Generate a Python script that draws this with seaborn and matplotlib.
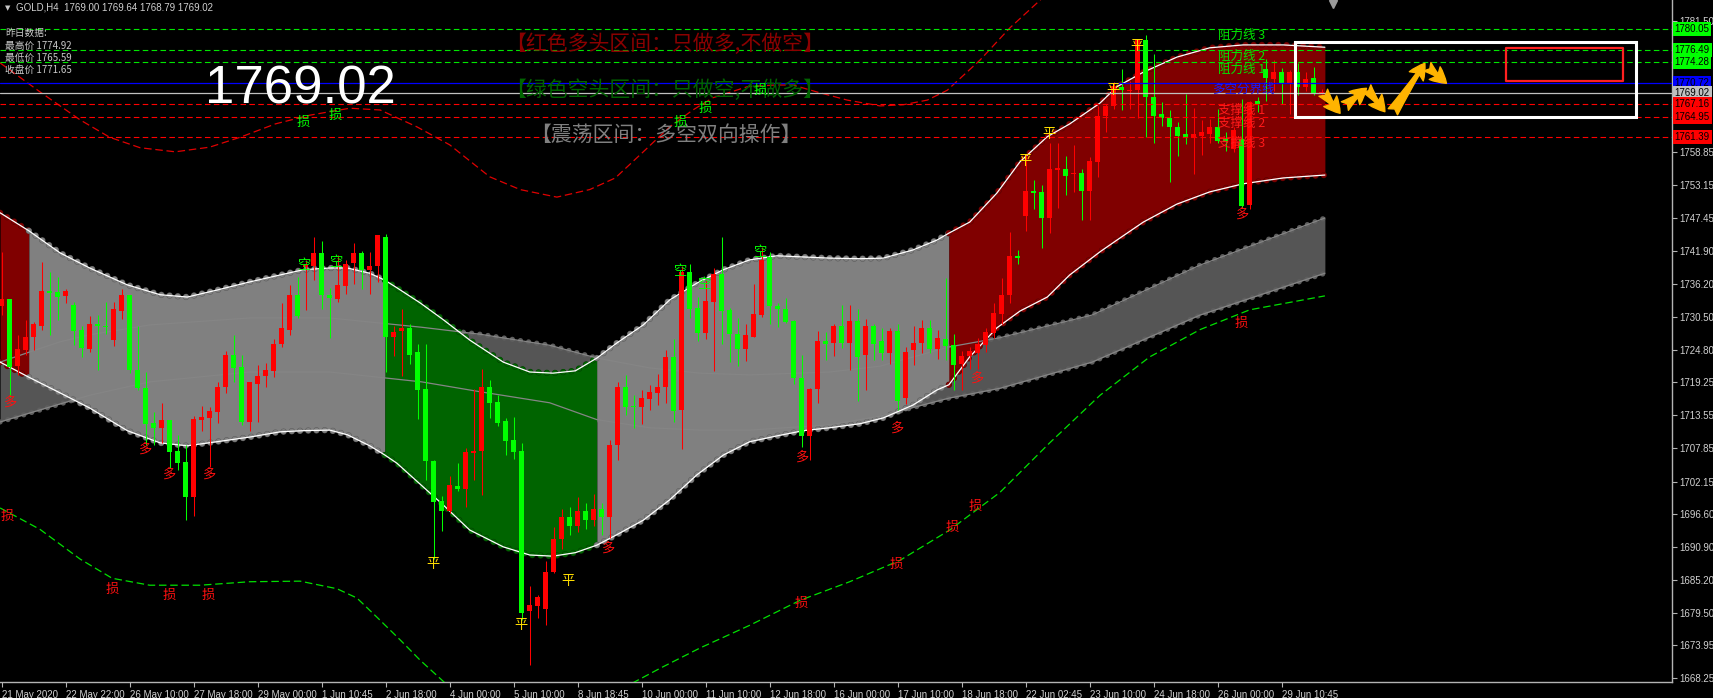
import numpy as np
import seaborn as sns
import matplotlib.pyplot as plt
import matplotlib.transforms as mtransforms
import matplotlib.patheffects as pe
from matplotlib.patches import Rectangle

# GOLD H4 bars, bar 0 = 21 May 2020
opens = [
    1732.3, 1733.6, 1722.0, 1724.7, 1727.0, 1729.0, 1734.9, 1734.7, 1734.1, 1732.6,
    1728.2, 1724.9, 1729.2, 1729.0, 1726.5, 1731.5, 1734.2, 1721.4, 1718.2, 1712.2,
    1711.4, 1712.7, 1707.4, 1705.5, 1699.4, 1712.7, 1713.0, 1714.1, 1718.4, 1724.0,
    1721.9, 1712.4, 1719.0, 1720.3, 1721.2, 1725.8, 1728.2, 1734.2, 1739.0, 1739.3,
    1741.5, 1734.3, 1733.6, 1735.8, 1739.7, 1741.5, 1738.6, 1739.2, 1744.3, 1727.0,
    1728.0, 1728.6, 1724.4, 1718.0, 1705.7, 1698.8, 1697.0, 1701.4, 1700.8, 1707.1,
    1707.4, 1718.5, 1715.8, 1712.6, 1709.3, 1707.4, 1679.8, 1680.7, 1680.2, 1686.5,
    1692.2, 1696.0, 1694.5, 1697.0, 1695.5, 1697.5, 1696.0, 1708.4, 1718.5, 1715.1,
    1714.9, 1716.3, 1717.4, 1718.4, 1723.5, 1714.4, 1738.2, 1732.1, 1727.7, 1733.0,
    1737.9, 1731.6, 1727.6, 1725.0, 1727.1, 1730.8, 1740.8, 1732.4, 1731.8, 1729.7,
    1720.0, 1710.0, 1718.0, 1726.4, 1726.0, 1729.0, 1726.0, 1729.7, 1723.9, 1728.9,
    1726.3, 1724.2, 1728.1, 1716.5, 1724.7, 1726.0, 1728.6, 1725.0, 1726.6, 1725.6,
    1722.3, 1723.7, 1724.2, 1725.6, 1727.7, 1730.9, 1734.2, 1741.0, 1747.9, 1752.2,
    1751.9, 1747.5, 1755.8, 1756.0, 1755.0, 1755.3, 1752.2, 1757.1, 1765.1, 1766.7,
    1770.0, 1769.4, 1769.5, 1778.1, 1768.3, 1765.4, 1764.8, 1763.2, 1761.9, 1761.3,
    1761.7, 1761.9, 1763.2, 1761.1, 1759.4, 1761.1, 1749.7, 1767.7, 1773.2, 1771.4,
    1772.6, 1770.5, 1772.6, 1770.0, 1771.6, 1769.00,
]
highs = [
    1741.6, 1733.6, 1727.3, 1730.0, 1729.6, 1739.9, 1738.2, 1737.4, 1735.3, 1733.1,
    1729.0, 1730.6, 1730.8, 1733.0, 1733.0, 1735.3, 1734.2, 1728.9, 1721.0, 1714.1,
    1715.6, 1712.7, 1710.1, 1708.5, 1713.4, 1715.1, 1715.0, 1719.3, 1724.6, 1727.3,
    1724.0, 1719.3, 1722.2, 1722.5, 1726.6, 1732.9, 1735.9, 1737.4, 1740.2, 1744.3,
    1743.6, 1735.5, 1741.1, 1740.2, 1743.2, 1741.9, 1741.7, 1744.5, 1744.8, 1729.0,
    1731.8, 1729.2, 1725.8, 1725.9, 1705.8, 1699.6, 1703.1, 1705.3, 1708.0, 1718.0,
    1721.6, 1719.7, 1717.0, 1713.0, 1713.2, 1708.7, 1684.1, 1682.6, 1688.4, 1694.4,
    1697.5, 1697.8, 1699.5, 1698.5, 1700.0, 1698.5, 1709.3, 1719.3, 1720.4, 1717.0,
    1717.9, 1718.7, 1720.6, 1724.7, 1726.7, 1739.3, 1739.6, 1733.9, 1736.8, 1738.9,
    1744.3, 1732.1, 1730.3, 1729.2, 1736.1, 1742.5, 1741.6, 1732.9, 1733.8, 1729.9,
    1723.9, 1718.3, 1728.0, 1727.9, 1729.3, 1732.5, 1732.5, 1731.9, 1730.2, 1729.3,
    1728.6, 1728.6, 1729.3, 1725.3, 1729.0, 1729.9, 1729.9, 1728.3, 1737.2, 1727.6,
    1724.6, 1725.3, 1726.8, 1728.6, 1732.8, 1737.1, 1745.1, 1742.0, 1758.4, 1754.1,
    1753.2, 1760.5, 1760.5, 1758.2, 1760.1, 1756.0, 1758.0, 1766.8, 1767.1, 1770.9,
    1773.2, 1771.1, 1778.1, 1779.0, 1775.7, 1767.4, 1766.1, 1764.0, 1768.9, 1766.4,
    1764.4, 1764.6, 1766.3, 1762.3, 1763.1, 1768.0, 1767.7, 1768.4, 1774.9, 1774.7,
    1773.4, 1773.0, 1774.1, 1772.7, 1773.5, 1769.64,
]
lows = [
    1730.8, 1716.7, 1720.4, 1723.9, 1724.7, 1728.2, 1727.3, 1729.9, 1732.9, 1725.6,
    1723.5, 1724.4, 1721.3, 1727.6, 1725.5, 1730.2, 1720.9, 1717.9, 1708.4, 1708.4,
    1708.7, 1704.4, 1704.1, 1695.5, 1696.2, 1710.9, 1704.7, 1712.2, 1717.4, 1719.3,
    1711.9, 1710.9, 1712.4, 1718.4, 1720.1, 1725.3, 1727.3, 1730.3, 1731.6, 1736.8,
    1731.9, 1726.9, 1733.0, 1734.4, 1736.2, 1735.3, 1734.4, 1736.5, 1721.0, 1723.7,
    1720.3, 1722.4, 1712.9, 1702.4, 1688.8, 1693.7, 1696.7, 1700.6, 1697.7, 1702.4,
    1699.8, 1713.0, 1711.7, 1706.7, 1706.1, 1678.3, 1670.6, 1678.6, 1677.5, 1686.4,
    1690.5, 1693.0, 1693.5, 1694.0, 1694.5, 1693.0, 1692.5, 1705.8, 1713.6, 1711.4,
    1712.0, 1714.5, 1715.4, 1715.6, 1712.4, 1707.8, 1730.3, 1726.4, 1726.6, 1721.2,
    1725.8, 1722.7, 1722.0, 1722.9, 1727.0, 1730.5, 1729.3, 1728.7, 1729.4, 1719.0,
    1708.1, 1705.8, 1715.7, 1723.0, 1723.7, 1725.2, 1721.4, 1716.0, 1717.9, 1723.1,
    1723.1, 1722.3, 1714.5, 1715.5, 1722.2, 1724.2, 1724.2, 1723.3, 1723.0, 1717.9,
    1717.9, 1721.6, 1721.6, 1724.4, 1726.8, 1729.3, 1732.9, 1739.6, 1745.3, 1749.1,
    1742.4, 1744.9, 1749.3, 1751.4, 1751.9, 1747.1, 1747.1, 1754.5, 1762.3, 1766.3,
    1766.1, 1766.3, 1764.8, 1761.4, 1760.4, 1763.4, 1753.7, 1758.1, 1760.3, 1755.0,
    1758.4, 1760.5, 1760.5, 1759.1, 1758.8, 1749.3, 1749.0, 1765.7, 1767.7, 1769.4,
    1767.1, 1765.4, 1768.6, 1769.3, 1768.6, 1768.79,
]
closes = [
    1733.6, 1721.9, 1724.9, 1727.1, 1729.2, 1734.9, 1734.6, 1733.9, 1734.9, 1728.0,
    1725.1, 1729.2, 1729.0, 1728.7, 1731.8, 1734.2, 1721.3, 1718.2, 1712.1, 1711.4,
    1712.7, 1707.3, 1705.3, 1699.4, 1712.9, 1713.2, 1714.3, 1718.5, 1724.0, 1721.7,
    1712.4, 1719.3, 1720.3, 1721.3, 1725.8, 1728.5, 1734.2, 1730.6, 1739.5, 1741.5,
    1734.2, 1733.7, 1735.9, 1739.6, 1741.5, 1738.6, 1739.3, 1744.5, 1727.0, 1727.9,
    1728.6, 1724.0, 1717.9, 1705.7, 1698.7, 1697.1, 1701.5, 1700.8, 1707.3, 1707.4,
    1718.5, 1715.7, 1712.2, 1709.2, 1707.3, 1679.6, 1680.9, 1682.3, 1686.6, 1692.2,
    1696.0, 1694.5, 1697.0, 1695.5, 1697.5, 1696.0, 1708.4, 1718.5, 1715.0, 1714.9,
    1716.5, 1717.5, 1718.5, 1723.5, 1714.3, 1738.2, 1731.9, 1727.7, 1733.3, 1737.8,
    1731.5, 1727.6, 1725.0, 1727.3, 1730.9, 1740.2, 1732.3, 1731.8, 1729.6, 1720.0,
    1710.0, 1718.1, 1726.4, 1725.9, 1729.0, 1726.0, 1729.7, 1723.6, 1728.9, 1725.9,
    1724.3, 1728.1, 1716.0, 1724.5, 1726.0, 1728.6, 1724.9, 1726.8, 1725.4, 1722.2,
    1723.7, 1724.6, 1725.8, 1727.9, 1731.2, 1734.2, 1741.0, 1740.6, 1752.2, 1751.8,
    1747.5, 1756.0, 1756.1, 1754.8, 1755.3, 1752.1, 1757.3, 1765.1, 1766.7, 1770.3,
    1769.5, 1769.5, 1778.1, 1768.3, 1765.1, 1764.8, 1763.2, 1761.7, 1761.3, 1761.9,
    1762.3, 1763.2, 1760.7, 1760.8, 1762.6, 1749.5, 1767.4, 1767.1, 1771.6, 1772.6,
    1770.5, 1772.6, 1770.0, 1771.4, 1768.8, 1769.02,
]

# time axis labels, one every 8 bars
tick_dates = ["21 May 2020", "22 May 22:00", "26 May 10:00", "27 May 18:00", "29 May 00:00",
              "1 Jun 10:45", "2 Jun 18:00", "4 Jun 00:00", "5 Jun 10:00", "8 Jun 18:45",
              "10 Jun 00:00", "11 Jun 10:00", "12 Jun 18:00", "16 Jun 00:00", "17 Jun 10:00",
              "18 Jun 18:00", "22 Jun 02:45", "23 Jun 10:00", "24 Jun 18:00", "26 Jun 00:00",
              "29 Jun 10:45"]
# the ticks hidden behind the price boxes are left out
price_ticks = [1781.50, 1758.85, 1753.15, 1747.45, 1741.90,
               1736.20, 1730.50, 1724.80, 1719.25, 1713.55, 1707.85, 1702.15, 1696.60,
               1690.90, 1685.20, 1679.50, 1673.95, 1668.25]

# main channel (bar index, price)
band_x = [-0.2, 3.4, 7.3, 11.0, 15.7, 19.8, 23.2, 26.9, 31.0, 34.8, 37.7, 41.0, 43.2, 46.0,
          47.9, 49.4, 52.3, 55.2, 58.5, 62.7, 66.0, 68.9, 71.7, 74.4, 76.9, 80.2, 83.5,
          86.9, 90.2, 93.5, 96.9, 100.2, 103.5, 107.3, 110.2, 113.9, 116.9, 118.4, 121.0,
          124.4, 127.3, 130.7, 133.5, 137.3, 139.4, 142.7, 146.9, 151.0, 155.2, 160.2, 165.4]
band_upper = [1748.4, 1745.3, 1741.5, 1738.9, 1736.0, 1734.3, 1733.9, 1735.1, 1736.5, 1737.7,
              1738.6, 1738.9, 1738.9, 1738.0, 1736.8, 1735.5, 1732.9, 1730.0, 1726.5, 1722.7,
              1721.0, 1720.8, 1721.2, 1723.4, 1726.0, 1729.1, 1733.4, 1736.3, 1738.6, 1740.3,
              1741.0, 1740.8, 1740.6, 1740.5, 1740.6, 1742.0, 1743.7, 1744.9, 1746.8, 1751.8,
              1757.2, 1761.5, 1763.7, 1767.3, 1770.1, 1772.6, 1775.2, 1776.8, 1777.3, 1777.3,
              1776.9]
band_lower = [1722.7, 1720.1, 1717.4, 1714.8, 1710.9, 1708.8, 1708.3, 1709.0, 1709.8, 1710.7,
              1710.9, 1711.0, 1710.2, 1708.3, 1706.7, 1705.3, 1701.7, 1698.1, 1693.8, 1690.9,
              1689.5, 1689.3, 1689.9, 1691.2, 1693.0, 1695.5, 1699.0, 1703.3, 1706.7, 1709.0,
              1710.0, 1710.9, 1711.4, 1712.1, 1713.1, 1715.3, 1717.9, 1718.8, 1723.6, 1728.6,
              1731.5, 1733.9, 1737.7, 1741.7, 1743.7, 1746.8, 1749.9, 1752.0, 1753.4, 1754.4,
              1754.9]
zone_edges = [-0.2, 3.4, 47.9, 74.4, 118.4, 165.4]
zone_colors = ["#800000", "#808080", "#006400", "#808080", "#800000"]
zone_rims = ["#560000", "#5c5c5c", "#003f00", "#5c5c5c", "#560000"]

# slower channel drawn behind
sec_x = [-0.2, 3.4, 7.3, 11.0, 18.5, 31.0, 41.0, 52.5, 59.8, 68.5, 74.4, 81.0, 87.3, 93.5,
         103.5, 109.8, 118.4, 124.8, 136.3, 149.8, 165.4]
sec_upper = [1722.7, 1724.4, 1726.2, 1727.4, 1729.1, 1730.3, 1730.3, 1728.7, 1727.5, 1725.6,
             1723.4, 1721.7, 1720.8, 1720.5, 1721.0, 1722.0, 1725.3, 1726.9, 1730.8, 1739.4,
             1747.5]
sec_lower = [1712.4, 1713.9, 1715.5, 1717.0, 1719.3, 1721.0, 1721.0, 1719.3, 1717.6, 1715.7,
             1712.8, 1711.4, 1711.0, 1711.0, 1711.9, 1713.4, 1716.5, 1718.2, 1722.7, 1730.8,
             1738.0]

# outer envelopes
red_env_x = [-0.2, 4.8, 9.8, 13.5, 17.3, 21.7, 26.0, 29.8, 34.2, 38.5, 43.5, 47.3, 51.9, 56.0,
             61.0, 64.8, 69.4, 73.5, 76.7, 80.2, 83.5, 86.4, 88.9, 93.2, 96.7, 98.9, 101.9,
             105.7, 109.8, 112.7, 115.7, 118.2, 122.3, 126.0, 129.8, 133.5]
red_env_y = [1774.2, 1769.2, 1764.4, 1761.4, 1759.6, 1758.9, 1759.7, 1761.4, 1763.7, 1765.2,
             1766.4, 1766.1, 1763.2, 1760.1, 1754.6, 1752.4, 1751.1, 1752.4, 1754.4, 1758.9,
             1763.2, 1766.1, 1768.2, 1770.1, 1770.4, 1770.4, 1769.2, 1767.8, 1766.8, 1767.0,
             1767.8, 1769.5, 1774.7, 1780.2, 1785.0, 1790.2]
green_env_x = [-0.2, 4.8, 9.8, 13.8, 18.5, 24.8, 31.0, 37.3, 41.9, 44.4, 46.9, 49.8, 52.3,
               55.4, 58.5, 64.0, 69.0, 74.8, 78.9, 82.3, 87.3, 93.5, 99.8, 106.0, 112.3,
               118.5, 124.8, 131.0, 137.3, 143.5, 149.8, 156.0, 165.4]
green_env_y = [1697.6, 1693.9, 1688.8, 1685.5, 1684.3, 1684.3, 1684.9, 1685.0, 1683.7, 1682.1,
               1678.8, 1674.9, 1671.4, 1667.5, 1662.8, 1659.0, 1659.0, 1664.5, 1667.5, 1670.0,
               1673.5, 1677.4, 1681.7, 1684.9, 1688.6, 1693.8, 1700.3, 1708.8, 1717.0, 1723.6,
               1728.3, 1731.7, 1734.1]

# signal labels
duo_x = [1.0, 17.9, 20.9, 25.9, 75.8, 100.0, 111.9, 121.9, 155.0]
duo_y = [1715.8, 1707.7, 1703.4, 1703.4, 1690.7, 1706.4, 1711.4, 1720.0, 1748.2]
kong_x = [37.9, 41.9, 84.9, 87.9, 94.9]
kong_y = [1739.4, 1739.9, 1738.2, 1736.0, 1741.5]
ping_x = [53.9, 64.9, 70.8, 127.9, 130.9, 138.9, 141.9]
ping_y = [1687.8, 1677.3, 1684.9, 1757.3, 1761.8, 1769.4, 1777.1]
stop_up_x = [37.7, 41.7, 84.8, 87.9, 94.8]
stop_up_y = [1764.0, 1765.2, 1763.9, 1766.4, 1769.5]
stop_dn_x = [0.7, 13.8, 20.9, 25.8, 99.9, 111.8, 118.8, 121.7, 155.0]
stop_dn_y = [1696.1, 1683.5, 1682.6, 1682.6, 1681.1, 1687.8, 1694.2, 1697.9, 1729.3]

# levels
resist = [1780.05, 1776.49, 1774.28]
resist_names = ["阻力线 3", "阻力线 2", "阻力线 1"]
pivot = 1770.72
bid = 1769.02
support = [1767.16, 1764.95, 1761.39]
support_names = ["支撑线 1", "支撑线 2", "支撑线 3"]

# forecast arrows (bar index, price)
arrow_from = [(165.2, 1769.07), (167.9, 1766.78), (170.6, 1769.83), (173.9, 1765.80), (178.2, 1773.55)]
arrow_to = [(167.3, 1765.53), (170.6, 1769.83), (172.9, 1765.80), (177.9, 1774.13), (180.6, 1770.69)]

sns.set_theme(style="dark", rc={"axes.facecolor": "black", "figure.facecolor": "black",
                                "axes.grid": False, "axes.edgecolor": "#b4b4b4"})
plt.rcParams["font.family"] = ["Liberation Sans", "Noto Sans CJK SC", "DejaVu Sans"]
cjk = ["Noto Sans CJK SC", "DejaVu Sans"]

fig = plt.figure(figsize=(17.13, 6.98), dpi=100)
ax = fig.add_axes([0, 16 / 698, 1672 / 1713, 682 / 698])
ax.set_facecolor("black")
ax.grid(False)

# slower channel
sx, su, sl = map(np.array, (sec_x, sec_upper, sec_lower))
ax.fill_between(sx, sl, su, color="#555555", lw=0, zorder=1)
for yy in (su, sl):
    ax.plot(sx, yy, color="#5e5e5e", lw=3.8, ls=(0, (0.01, 1.55)), dash_capstyle="round", zorder=1.1)
    ax.plot(sx, yy, color="#858585", lw=0.9, zorder=2.5)

# main channel, coloured by regime
bx, bu, bl = map(np.array, (band_x, band_upper, band_lower))
for a, b, fc, rc in zip(zone_edges[:-1], zone_edges[1:], zone_colors, zone_rims):
    m = (bx >= a - 1e-6) & (bx <= b + 1e-6)
    ax.fill_between(bx[m], bl[m], bu[m], color=fc, lw=0, zorder=2)
    for yy in (bu[m], bl[m]):
        ax.plot(bx[m], yy, color=fc, lw=3.8, ls=(0, (0.01, 1.55)), dash_capstyle="round", zorder=2.2,
                path_effects=[pe.Stroke(linewidth=4.6, foreground=rc), pe.Normal()])
ax.plot(bx, bu, color="white", lw=0.9, zorder=2.8)
ax.plot(bx, bl, color="white", lw=0.9, zorder=2.8)

# envelopes
sns.lineplot(x=red_env_x, y=red_env_y, color="#e00000", lw=0.9, linestyle=(0, (6, 3)), ax=ax, zorder=3)
sns.lineplot(x=green_env_x, y=green_env_y, color="#00e000", lw=0.9, linestyle=(0, (6, 3)), ax=ax, zorder=3)

# candles
idx = np.arange(len(closes))
o, h, l, c = map(np.array, (opens, highs, lows, closes))
col = np.where(c >= o, "#ff0000", "#00ff00")
ax.vlines(idx, l, h, colors=col, lw=0.75, zorder=4)
ax.bar(idx, np.maximum(np.abs(c - o), 0.18), bottom=np.minimum(o, c), width=0.62,
       color=col, lw=0, zorder=4.1)

# horizontal levels
for lv in resist:
    ax.axhline(lv, color="#00e600", lw=0.8, ls=(0, (5, 3)), zorder=5)
for lv in support:
    ax.axhline(lv, color="#ff0000", lw=0.8, ls=(0, (5, 3)), zorder=5)
ax.axhline(pivot, color="#0000ff", lw=0.9, zorder=5)
ax.axhline(bid, color="#c0c0c0", lw=0.9, zorder=5)

for lv, name in zip(resist, resist_names):
    ax.text(152.0, lv, name, color="#00e600", fontsize=9, va="top", ha="left", family=cjk, zorder=7)
for lv, name in zip(support, support_names):
    ax.text(152.0, lv, name, color="#ff1a1a", fontsize=9, va="top", ha="left", family=cjk, zorder=7)
ax.text(151.3, pivot, "多空分界线", color="#1a1aff", fontsize=9, va="top", ha="left", family=cjk, zorder=7)

# signal marks
for xs, ys, s, colr in [(duo_x, duo_y, "多", "#ff1010"), (kong_x, kong_y, "空", "#00ff00"),
                        (ping_x, ping_y, "平", "#ffdd00"), (stop_up_x, stop_up_y, "损", "#00ff00"),
                        (stop_dn_x, stop_dn_y, "损", "#ff1010")]:
    for x, y in zip(xs, ys):
        ax.text(x, y, s, color=colr, fontsize=9.5, ha="center", va="center", family=cjk, zorder=7)

# forecast box and arrows
ax.add_patch(Rectangle((161.7, 1764.94), 42.6, 12.91, fill=False, ec="white", lw=2.2, zorder=8))
ax.add_patch(Rectangle((188.0, 1771.09), 14.7, 5.73, fill=False, ec="#ff2020", lw=1.6,
                       joinstyle="round", zorder=8))
for (x0, y0), (x1, y1) in zip(arrow_from, arrow_to):
    ax.annotate("", xy=(x1, y1), xytext=(x0, y0), zorder=9,
                arrowprops=dict(arrowstyle="fancy,head_length=0.7,head_width=0.75,tail_width=0.5",
                                color="#ffb400", mutation_scale=16, shrinkA=0, shrinkB=0))

# axes
ax.set_xlim(-0.2125, 208.79)
ax.set_ylim(1667.64, 1785.03)
for sp in ("left", "top"):
    ax.spines[sp].set_visible(False)
for sp in ("right", "bottom"):
    ax.spines[sp].set_color("#b4b4b4")
    ax.spines[sp].set_linewidth(1)
ax.yaxis.tick_right()
ax.set_yticks(price_ticks)
ax.set_yticklabels([f"{v:.2f}" for v in price_ticks])
ax.set_xticks(np.arange(0, 8 * len(tick_dates), 8))
ax.set_xticklabels(tick_dates, ha="left")
ax.tick_params(axis="both", colors="#b4b4b4", labelcolor="#d0d0d0", labelsize=7,
               length=3.5, width=0.8, direction="out", pad=2)
ax.tick_params(axis="y", right=True, left=False)
ax.tick_params(axis="x", bottom=True)
ax.set_xlabel("")
ax.set_ylabel("")

# price boxes on the axis
blend = mtransforms.blended_transform_factory(ax.transAxes, ax.transData)
box_levels = resist + [pivot, bid] + support
box_colors = ["#00ff00"] * 3 + ["#0000ff", "#c0c0c0"] + ["#ff0000"] * 3
for lv, fc in zip(box_levels, box_colors):
    ax.text(1.0016, lv, f"{lv:.2f}", transform=blend, fontsize=7, color="black", ha="left",
            va="center", clip_on=False, zorder=20,
            bbox=dict(boxstyle="square,pad=0.2", fc=fc, ec="none"))

# chart-shift marker
ax.plot([166.4], [1784.4], marker="v", ms=6, color="#9a9a9a", clip_on=False, zorder=10)

# overlay texts
ax.text(0.0045, 0.9883, "▼", transform=ax.transAxes, fontsize=5, color="#c8c8c8",
        ha="center", va="center", family=["DejaVu Sans"])
ax.text(0.0096, 0.9883, "GOLD,H4  1769.00 1769.64 1768.79 1769.02", transform=ax.transAxes,
        fontsize=7, color="#d0d0d0", ha="left", va="center")
for yy, s in zip([0.9521, 0.9330, 0.9154, 0.8974],
                 ["昨日数据:", "最高价 1774.92", "最低价 1765.59", "收盘价 1771.65"]):
    ax.text(0.003, yy, s, transform=ax.transAxes, fontsize=7, color="#c8c8c8",
            ha="left", va="center", family=cjk, zorder=10)
ax.text(0.1794, 0.8695, "1769.02", transform=ax.transAxes, fontsize=38, color="white",
        ha="center", va="center", zorder=10)
ax.text(0.3020, 0.9355, "【红色多头区间：只做多,不做空】", transform=ax.transAxes, fontsize=15,
        color="#8b0000", ha="left", va="center", family=cjk, zorder=6)
ax.text(0.3020, 0.8688, "【绿色空头区间：只做空,不做多】", transform=ax.transAxes, fontsize=15,
        color="#006400", ha="left", va="center", family=cjk, zorder=6)
ax.text(0.3170, 0.8021, "【震荡区间：多空双向操作】", transform=ax.transAxes, fontsize=15,
        color="#808080", ha="left", va="center", family=cjk, zorder=6)

fig.savefig("out.png", dpi=100, facecolor="black")
